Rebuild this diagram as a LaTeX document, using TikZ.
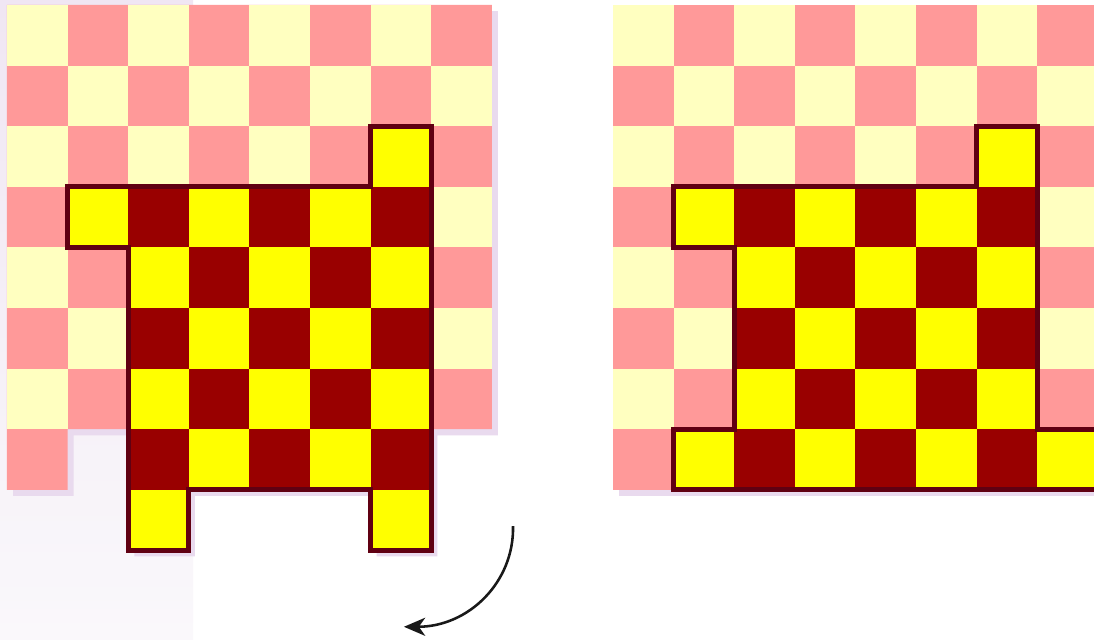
\documentclass[tikz,border=0pt]{standalone}
\usetikzlibrary{arrows.meta}
\definecolor{lightsq}{HTML}{FFFFC0}
\definecolor{darksq}{HTML}{FF9999}
\definecolor{tileyellow}{HTML}{FFFF00}
\definecolor{tilered}{HTML}{990000}
\definecolor{tileedge}{HTML}{600012}
\definecolor{shadowcol}{HTML}{E9DAEE}
\definecolor{hazetop}{HTML}{F0E6F3}
\definecolor{hazebot}{HTML}{FAF8FB}
\tikzset{
    haze/.style={
        top color=hazetop, bottom color=hazebot, draw=none
    },
    boardshadow/.style={
        fill=shadowcol, draw=none
    },
    boardbase/.style={
        fill=darksq, draw=none
    },
    lightcell/.style={
        fill=lightsq, draw=none
    },
    regionbase/.style={
        fill=tileyellow, draw=none
    },
    redcell/.style={
        fill=tilered, draw=none
    },
    regionedge/.style={
        draw=tileedge, line width=2.4pt, line join=miter
    },
    turnarrow/.style={
        -{Stealth[length=10pt,width=8.5pt,inset=3pt]}, line width=1.2pt, draw=black!90
    }
}

\begin{document}
\begin{tikzpicture}[x=1cm, y=-1cm]

    \clip (-0.1155,-0.0825) rectangle (17.937,10.478);
    \fill[white] (-0.1155,-0.0825) rectangle (17.937,10.478);
    \fill[haze] (-0.1155,-0.0825) rectangle (3.07,10.478);

    % left board, partly cut away
    \fill[boardshadow, shift={(0.1,0.1)}]
        (0,0) -- (8,0) -- (8,7) -- (7,7) -- (7,9) -- (6,9) -- (6,8) -- (3,8)
        -- (3,9) -- (2,9) -- (2,7) -- (1,7) -- (1,8) -- (0,8) -- cycle;
    \fill[boardbase] (0,0) -- (8,0) -- (8,7) -- (1,7) -- (1,8) -- (0,8) -- cycle;
    \foreach \r in {0,...,6}
        \foreach \c in {0,...,7} {
            \ifodd\numexpr\c+\r\relax\else
                \fill[lightcell] (\c,\r) rectangle ++(1,1);
            \fi
        }

    \fill[regionbase]
        (1,3) -- (6,3) -- (6,2) -- (7,2) -- (7,9) -- (6,9) -- (6,8) -- (3,8)
        -- (3,9) -- (2,9) -- (2,4) -- (1,4) -- cycle;
    \foreach \r/\cols in {3/{2,4,6}, 4/{3,5}, 5/{2,4,6}, 6/{3,5}, 7/{2,4,6}}
        \foreach \c in \cols
            \fill[redcell] (\c,\r) rectangle ++(1,1);
    \draw[regionedge]
        (1,3) -- (6,3) -- (6,2) -- (7,2) -- (7,9) -- (6,9) -- (6,8) -- (3,8)
        -- (3,9) -- (2,9) -- (2,4) -- (1,4) -- cycle;

    % right board, whole
    \begin{scope}[xshift=10cm]
        \fill[boardshadow] (0.1,0.1) rectangle (8.1,8.1);
        \fill[boardbase] (0,0) rectangle (8,8);
        \foreach \r in {0,...,7}
            \foreach \c in {0,...,7} {
                \ifodd\numexpr\c+\r\relax\else
                    \fill[lightcell] (\c,\r) rectangle ++(1,1);
                \fi
            }

        \fill[regionbase]
            (1,3) -- (6,3) -- (6,2) -- (7,2) -- (7,7) -- (8,7) -- (8,8)
            -- (1,8) -- (1,7) -- (2,7) -- (2,4) -- (1,4) -- cycle;
        \foreach \r/\cols in {3/{2,4,6}, 4/{3,5}, 5/{2,4,6}, 6/{3,5}, 7/{2,4,6}}
            \foreach \c in \cols
                \fill[redcell] (\c,\r) rectangle ++(1,1);
        \draw[regionedge]
            (1,3) -- (6,3) -- (6,2) -- (7,2) -- (7,7) -- (8,7) -- (8,8)
            -- (1,8) -- (1,7) -- (2,7) -- (2,4) -- (1,4) -- cycle;
    \end{scope}

    % turning arrow
    \coordinate (turnstart) at (8.35,8.60);
    \coordinate (turnend)   at (6.55,10.26);
    \draw[turnarrow] (turnstart) .. controls (8.37,9.52) and (7.62,10.26) .. (turnend);

\end{tikzpicture}
\end{document}
